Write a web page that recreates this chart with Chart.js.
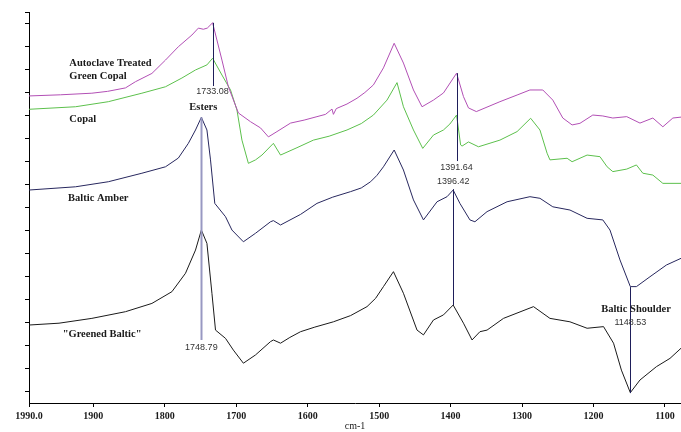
<!DOCTYPE html>
<html>
<head>
<meta charset="utf-8">
<script src="https://cdn.jsdelivr.net/npm/chart.js@4.4.1/dist/chart.umd.min.js"></script>
<style>
  html, body { margin: 0; padding: 0; background: #fff; }
  #wrap { width: 681px; height: 432px; }
</style>
</head>
<body>
<div id="wrap"><canvas id="spectra" width="681" height="432"></canvas></div>
<script>
// wavenumbers (cm-1) and relative intensities
const autoclaveX = [1990, 1946, 1902, 1880, 1855, 1841, 1818, 1799, 1781, 1762, 1753, 1746, 1740.5, 1733.08, 1720, 1711, 1697, 1680, 1666, 1655, 1643, 1624, 1605, 1587, 1575, 1566, 1564, 1560, 1545, 1531, 1520, 1508, 1494, 1479, 1466, 1452, 1440, 1424, 1410, 1391.64, 1382, 1375, 1364, 1331, 1307, 1289, 1271, 1257, 1243, 1230, 1219, 1201, 1187, 1173, 1153.5, 1135, 1117, 1103, 1089, 1077.6];
const autoclaveY = [13.35, 13.40, 13.47, 13.55, 13.70, 13.97, 14.33, 14.91, 15.49, 16.00, 16.30, 16.25, 16.30, 16.53, 14.91, 13.75, 12.61, 12.23, 11.96, 11.57, 11.80, 12.17, 12.30, 12.45, 12.55, 12.78, 12.55, 12.80, 13.00, 13.25, 13.50, 13.83, 14.57, 15.64, 14.78, 13.61, 12.88, 13.17, 13.48, 14.34, 13.32, 12.83, 12.67, 13.10, 13.39, 13.61, 13.61, 13.17, 12.39, 12.09, 12.16, 12.52, 12.48, 12.39, 12.45, 12.17, 12.39, 12.01, 12.39, 12.43];

const copalX = [1990, 1925, 1879, 1832, 1799, 1776, 1757, 1741, 1733.08, 1720, 1708, 1699, 1692, 1683, 1673, 1664, 1648, 1638, 1615, 1592, 1570, 1545, 1525, 1508, 1489, 1475, 1466, 1452, 1439, 1424, 1410, 1401, 1391.64, 1386, 1384, 1375, 1361, 1331, 1307, 1288, 1275, 1265, 1261, 1237, 1230, 1209, 1191, 1181, 1173, 1153.5, 1140, 1131, 1117, 1103, 1077.6];
const copalY = [12.77, 12.88, 13.10, 13.47, 13.75, 14.13, 14.48, 14.70, 14.99, 14.26, 13.61, 12.74, 11.43, 10.42, 10.57, 10.78, 11.29, 10.78, 11.10, 11.43, 11.60, 11.87, 12.15, 12.52, 13.17, 13.93, 12.88, 11.87, 11.07, 11.65, 11.87, 12.13, 12.52, 11.22, 11.17, 11.35, 11.14, 11.43, 11.80, 12.38, 11.87, 10.86, 10.57, 10.64, 10.49, 10.78, 10.71, 10.27, 10.06, 10.17, 10.35, 9.99, 9.91, 9.55, 9.55];

const amberX = [1990, 1925, 1879, 1832, 1799, 1781, 1767, 1757, 1748.79, 1741, 1736, 1730, 1715, 1706, 1690, 1673, 1652, 1648, 1638, 1610, 1587, 1565, 1540, 1525, 1512, 1503, 1494, 1479, 1466, 1452, 1438, 1419, 1405, 1396.42, 1387, 1373, 1366, 1349, 1321, 1289, 1275, 1257, 1233, 1209, 1187, 1177, 1163, 1148.53, 1140, 1121, 1098, 1077.6];
const amberY = [9.26, 9.40, 9.62, 9.99, 10.27, 10.65, 11.29, 11.87, 12.42, 11.87, 10.57, 8.68, 8.10, 7.52, 7.01, 7.38, 7.88, 7.93, 7.74, 8.20, 8.68, 8.95, 9.19, 9.35, 9.62, 9.90, 10.27, 11.00, 10.13, 8.83, 7.96, 8.75, 8.97, 9.26, 8.68, 7.96, 7.88, 8.32, 8.75, 8.97, 8.90, 8.53, 8.39, 8.03, 7.96, 7.52, 6.22, 5.06, 5.06, 5.49, 6.00, 6.29];

const greenedX = [1990, 1948, 1902, 1855, 1818, 1790, 1771, 1757, 1748.79, 1741, 1734, 1729, 1715, 1704, 1690, 1673, 1652, 1648, 1638, 1625, 1610, 1590, 1564, 1540, 1517, 1505, 1494, 1480, 1466, 1447, 1438, 1424, 1410, 1396.42, 1382, 1370, 1359, 1349, 1326, 1284, 1261, 1233, 1209, 1186, 1172, 1161, 1148.53, 1135, 1112, 1093, 1077.6];
const greenedY = [3.39, 3.47, 3.68, 3.97, 4.33, 4.84, 5.64, 6.65, 7.52, 6.94, 4.77, 3.17, 2.81, 2.30, 1.73, 2.09, 2.67, 2.74, 2.60, 2.85, 3.10, 3.30, 3.53, 3.80, 4.19, 4.55, 5.06, 5.71, 4.77, 3.17, 2.96, 3.61, 3.83, 4.26, 3.47, 2.74, 3.10, 3.17, 3.68, 4.19, 3.68, 3.53, 3.25, 3.32, 2.60, 1.43, 0.45, 1.00, 1.58, 1.94, 2.38];

const xTicks = [1990, 1900, 1800, 1700, 1600, 1500, 1400, 1300, 1200, 1100];

// peak markers: wavenumber, top and bottom of the marker line
const markWn = [1733.08, 1748.79, 1391.64, 1396.42, 1148.53];
const markTop = [16.53, 12.42, 14.34, 9.30, 5.04];
const markBottom = [13.78, 2.74, 10.52, 4.26, 0.43];

const pts = (xs, ys) => xs.map((x, i) => ({ x: x, y: ys[i] }));

const serif = '"Liberation Serif", "Times New Roman", serif';
const sans = '"Liberation Sans", Arial, sans-serif';

// texts drawn on the plot: [text, wavenumber, value, align, font]
const notes = [
    ['Autoclave Treated', 1933.5, 14.77, 'left', 'bold 10.5px ' + serif],
    ['Green Copal', 1933.5, 14.22, 'left', 'bold 10.5px ' + serif],
    ['Copal', 1933.5, 12.35, 'left', 'bold 10.5px ' + serif],
    ['Baltic Amber', 1935.3, 8.9, 'left', 'bold 10.5px ' + serif],
    ['"Greened Baltic"', 1942.9, 2.99, 'left', 'bold 10.5px ' + serif],
    ['Esters', 1746, 12.84, 'center', 'bold 10.5px ' + serif],
    ['Baltic Shoulder', 1140.5, 4.09, 'center', 'bold 10.5px ' + serif],
    ['1733.08', 1733.08, 13.54, 'center', '9px ' + sans],
    ['1748.79', 1748.79, 2.43, 'center', '9px ' + sans],
    ['1391.64', 1391.64, 10.22, 'center', '9px ' + sans],
    ['1396.42', 1396.42, 9.61, 'center', '9px ' + sans],
    ['1148.53', 1148.53, 3.52, 'center', '9px ' + sans]
];

const markerPlugin = {
    id: 'markers',
    afterDatasetsDraw(chart) {
        const ctx = chart.ctx;
        const xs = chart.scales.x, ys = chart.scales.y;
        ctx.save();
        markWn.forEach((wn, i) => {
            const px = Math.round(xs.getPixelForValue(wn)) + 0.5;
            ctx.beginPath();
            // the Esters line is drawn wider and paler
            ctx.strokeStyle = i === 1 ? '#9898c2' : '#1e1e5a';
            ctx.lineWidth = i === 1 ? 2 : 1;
            ctx.moveTo(px, ys.getPixelForValue(markTop[i]));
            ctx.lineTo(px, ys.getPixelForValue(markBottom[i]));
            ctx.stroke();
        });
        ctx.textBaseline = 'middle';
        notes.forEach(n => {
            ctx.font = n[4];
            ctx.textAlign = n[3];
            ctx.fillStyle = n[4].indexOf('bold') === 0 ? '#1a1a1a' : '#333333';
            ctx.fillText(n[0], xs.getPixelForValue(n[1]), ys.getPixelForValue(n[2]));
        });
        ctx.restore();
    }
};

new Chart(document.getElementById('spectra'), {
    type: 'line',
    data: {
        datasets: [
            { label: 'Autoclave Treated Green Copal', data: pts(autoclaveX, autoclaveY), borderColor: '#b24fb5' },
            { label: 'Copal', data: pts(copalX, copalY), borderColor: '#5cc04c' },
            { label: 'Baltic Amber', data: pts(amberX, amberY), borderColor: '#27275e' },
            { label: '"Greened Baltic"', data: pts(greenedX, greenedY), borderColor: '#1a1a1a' }
        ]
    },
    options: {
        responsive: false,
        animation: false,
        layout: { padding: { top: 12, left: 0, right: 0, bottom: 0 } },
        elements: { point: { radius: 0 }, line: { borderWidth: 1, tension: 0 } },
        plugins: { legend: { display: false }, tooltip: { enabled: false } },
        scales: {
            x: {
                type: 'linear',
                reverse: true,
                min: 1077.6,
                max: 1990,
                afterBuildTicks: s => { s.ticks = xTicks.map(v => ({ value: v })); },
                afterFit: s => { s.height = 29; },
                ticks: {
                    autoSkip: false,
                    maxRotation: 0,
                    padding: 3,
                    color: '#1a1a1a',
                    font: { family: serif, size: 10, weight: 'bold' },
                    callback: v => v === 1990 ? '1990.0' : String(v)
                },
                grid: { drawOnChartArea: false, tickLength: 4, color: '#000' },
                border: { color: '#000', width: 1 },
                title: { display: true, text: 'cm-1', color: '#1a1a1a', padding: 0, font: { family: serif, size: 10 } }
            },
            y: {
                min: 0,
                max: 17,
                afterBuildTicks: s => {
                    const t = [];
                    for (let k = 0; k <= 16; k++) t.push({ value: 0.5 + k });
                    t.push({ value: 17 });
                    s.ticks = t;
                },
                afterFit: s => { s.width = 29; },
                ticks: { display: false },
                grid: { drawOnChartArea: false, tickLength: 4, color: '#000' },
                border: { color: '#000', width: 1 }
            }
        }
    },
    plugins: [markerPlugin]
});
</script>
</body>
</html>
